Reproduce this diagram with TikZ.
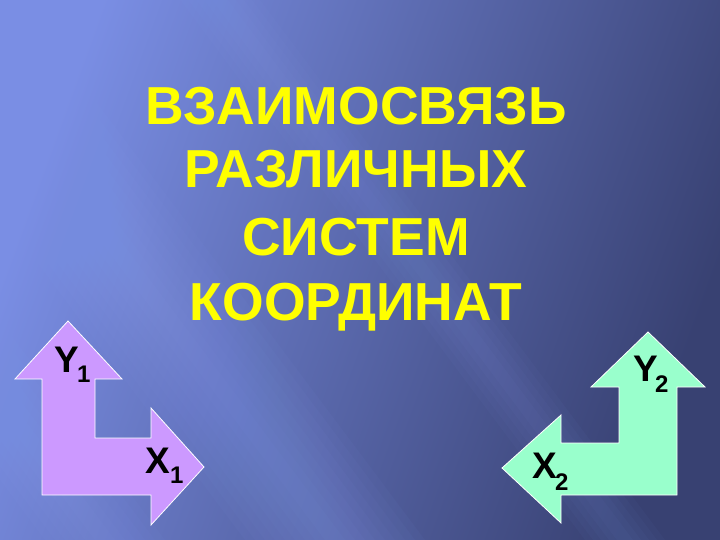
\documentclass[tikz,border=0pt]{standalone}
\usepackage{fontspec}
\setmainfont{Liberation Sans}
\definecolor{bgA}{RGB}{122,142,228}
\definecolor{bgM}{RGB}{72,85,150}
\definecolor{bgB}{RGB}{56,65,114}
\definecolor{streak}{RGB}{140,162,245}
\definecolor{lav}{RGB}{204,153,255}
\definecolor{mint}{RGB}{153,255,204}
\definecolor{ttl}{RGB}{255,255,0}
\begin{document}
\begin{tikzpicture}[x=1pt,y=-1pt,
  title/.style={text=ttl, font=\bfseries\fontsize{53.5}{53.5}\selectfont, inner sep=0, anchor=base},
  lab/.style={font=\bfseries\fontsize{37}{37}\selectfont, text=black, inner sep=0, anchor=base west},
  sub/.style={font=\bfseries\fontsize{24}{24}\selectfont, text=black, inner sep=0, anchor=base west},
  arrowshape/.style={draw=white, line width=0.8pt, line join=miter}]
\useasboundingbox (0,0) rectangle (720,540);
\begin{scope}
\clip (0,0) rectangle (720,540);
\shade[shading=axis, top color=bgA, middle color=bgM, bottom color=bgB, shading angle=70] (0,0) rectangle (720,540);
% soft diagonal light streaks
\foreach \w in {10,20,...,90}{
  \fill[streak, opacity=0.045] (-70-\w,0) -- (-70+\w,0) -- (335+\w,540) -- (335-\w,540) -- cycle;
}
\foreach \w in {8,16,...,40}{
  \fill[streak, opacity=0.035] (220-\w,0) -- (220+\w,0) -- (625+\w,540) -- (625-\w,540) -- cycle;
}
\foreach \w in {10,20,...,60}{
  \fill[streak, opacity=0.045] (-300-\w,0) -- (-300+\w,0) -- (105+\w,540) -- (105-\w,540) -- cycle;
}
\end{scope}
% title
\node[title] (t1) at (356,125) {ВЗАИМОСВЯЗЬ};
\node[title] (t2) at (356,188) {РАЗЛИЧНЫХ};
\node[title] (t3) at (356,255) {СИСТЕМ};
\node[title] (t4) at (356,320) {КООРДИНАТ};
% left axes arrow
\fill[lav, arrowshape] (68,321) -- (122,379) -- (95,379) -- (95,438) -- (151,438) -- (151,408)
  -- (204,467) -- (151,525) -- (151,495) -- (42,495) -- (42,379) -- (15,379) -- cycle;
% right axes arrow
\fill[mint, arrowshape] (648,332) -- (705,387) -- (677,387) -- (677,495) -- (561,495) -- (561,523)
  -- (502,468) -- (561,415) -- (561,443) -- (619,443) -- (619,387) -- (591,387) -- cycle;
% labels
\node[lab] (y1) at (54,372) {Y};
\node[sub] (y1s) at (77,382) {1};
\node[lab] (x1) at (145,473) {X};
\node[sub] (x1s) at (170,483) {1};
\node[lab] (y2) at (633,381) {Y};
\node[sub] (y2s) at (655,392) {2};
\node[lab] (x2) at (532,478) {X};
\node[sub] (x2s) at (555,490) {2};
\end{tikzpicture}
\end{document}
